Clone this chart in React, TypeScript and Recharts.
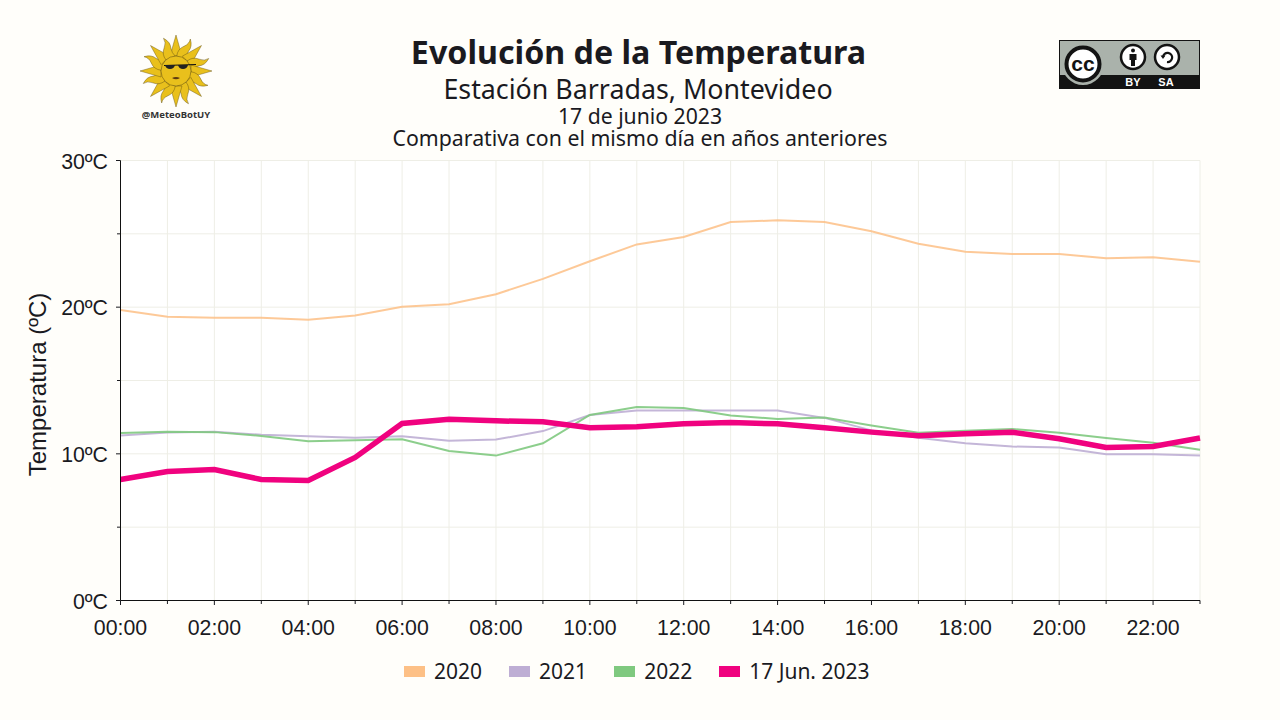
import React from "react";
import { LineChart, Line, XAxis, YAxis, CartesianGrid, Legend, Label } from "recharts";

const hours = ["00:00","01:00","02:00","03:00","04:00","05:00","06:00","07:00","08:00","09:00","10:00","11:00","12:00","13:00","14:00","15:00","16:00","17:00","18:00","19:00","20:00","21:00","22:00","23:00"];
const t2020 = [19.8,19.35,19.28,19.28,19.15,19.43,20.03,20.2,20.88,21.93,23.13,24.28,24.78,25.8,25.92,25.8,25.18,24.33,23.78,23.63,23.63,23.33,23.4,23.1];
const t2021 = [11.25,11.45,11.5,11.3,11.2,11.1,11.2,10.9,10.97,11.55,12.65,12.95,12.95,12.95,12.95,12.45,11.6,11.1,10.72,10.5,10.43,9.97,9.97,9.88];
const t2022 = [11.42,11.5,11.48,11.22,10.85,10.93,11.0,10.2,9.88,10.72,12.65,13.2,13.12,12.62,12.37,12.47,11.93,11.43,11.57,11.7,11.43,11.08,10.75,10.28];
const t2023 = [8.25,8.8,8.93,8.25,8.18,9.75,12.07,12.35,12.25,12.18,11.78,11.85,12.05,12.13,12.05,11.78,11.48,11.23,11.37,11.47,11.03,10.43,10.5,11.08];
const yTicks = [0,5,10,15,20,25,30];
const legendNames = ["2020","2021","2022","17 Jun. 2023"];
const colors = ["#fdc086","#beaed4","#7fc97f","#f0027f"];

const data = hours.map((h, i) => ({ h, a: t2020[i], b: t2021[i], c: t2022[i], d: t2023[i] }));

const INK = "#1a1a1f";
const SANS = "'Noto Sans', sans-serif";
const ARIAL = "'Liberation Sans', Arial, sans-serif";

const XTick = (p: any) => {
  const i = p.index as number;
  const major = i % 2 === 0;
  return (
    <g>
      <line x1={p.x} x2={p.x} y1={600.5} y2={major ? 605 : 604} stroke={INK} strokeWidth={1} />
      {major && (
        <text x={p.x} y={635} textAnchor="middle" fontFamily={ARIAL} fontSize={21.3} fill={INK}>
          {p.payload.value}
        </text>
      )}
    </g>
  );
};

const YTick = (p: any) => {
  const v = p.payload.value as number;
  const major = v % 10 === 0;
  return (
    <g>
      <line x1={major ? 116 : 117} x2={120.5} y1={p.y} y2={p.y} stroke={INK} strokeWidth={1} />
      {major && (
        <text x={108} y={p.y + 8} textAnchor="end" fontFamily={ARIAL} fontSize={21.3} fill={INK}>
          {v}ºC
        </text>
      )}
    </g>
  );
};

const LegendBox = (p: any) => (
  <div style={{ display: "flex", fontFamily: SANS, fontSize: 21, color: INK, lineHeight: "28px", whiteSpace: "nowrap" }}>
    {p.payload.map((e: any, i: number) => (
      <div key={i} style={{ display: "flex", alignItems: "center", marginRight: 27 }}>
        <span style={{ display: "inline-block", width: 21, height: 11, background: e.color, marginRight: 9 }} />
        <span>{e.value}</span>
      </div>
    ))}
  </div>
);

const rayAngles = Array.from({ length: 16 }, (_, i) => i * 22.5);

const Sun = () => (
  <svg width={1280} height={160} style={{ position: "absolute", left: 0, top: 0 }}>
    <g transform="translate(176,71)">
      {rayAngles.map((a, i) =>
        i % 2 === 0 ? (
          <path key={i} transform={`rotate(${a})`} d="M-6,-15 L0,-36 L6,-15 Z" fill="#e9c01c" stroke="#5c4a10" strokeWidth={0.4} />
        ) : (
          <path key={i} transform={`rotate(${a})`} d="M-5,-14 Q-7,-21 -2,-26 Q2,-30 1,-35 Q6,-29 4,-23 Q3,-18 5,-14 Z" fill="#e9c01c" stroke="#5c4a10" strokeWidth={0.4} />
        )
      )}
      <circle r={15} fill="#e9c01c" stroke="#5c4a10" strokeWidth={0.5} />
      <path d="M-12,-5.5 L20,-6.5" stroke="#111" strokeWidth={1.1} fill="none" />
      <path d="M-11,-6 Q-10,-2 -6,-2 Q-2,-2 -1,-6 Z M2,-6 Q3,-2 7,-2 Q11,-2 12,-6 Z" fill="#222" />
      <path d="M-4,7 Q0,5 4,7 Q0,9.5 -4,7 Z" fill="#5c3a10" />
    </g>
    <text x={176} y={118} textAnchor="middle" fontFamily={SANS} fontWeight={700} fontSize={9.5} fill="#333">@MeteoBotUY</text>

    <rect x={1059.5} y={40.5} width={140} height={48} fill="#aab2ab" stroke="#131313" />
    <rect x={1059} y={75} width={141} height={14} fill="#131313" />
    <circle cx={1083} cy={64} r={21} fill="#aab2ab" />
    <circle cx={1083} cy={64} r={16.5} fill="#fff" stroke="#131313" strokeWidth={4} />
    <text x={1083} y={71} textAnchor="middle" fontFamily={ARIAL} fontWeight={700} fontSize={21} fill="#131313">cc</text>
    <circle cx={1133} cy={57} r={12} fill="#fff" stroke="#131313" strokeWidth={2.5} />
    <circle cx={1133} cy={50.5} r={2} fill="#131313" />
    <path d="M1129.5,54 H1136.5 V60 H1135 V66 H1131 V60 H1129.5 Z" fill="#131313" />
    <circle cx={1167} cy={57} r={12} fill="#fff" stroke="#131313" strokeWidth={2.5} />
    <path d="M1163,57 A4.6,4.6 0 1 1 1167,62" fill="none" stroke="#131313" strokeWidth={2.2} />
    <path d="M1160.5,55.5 L1165.5,55.5 L1163,59 Z" fill="#131313" />
    <text x={1133} y={86} textAnchor="middle" fontFamily={ARIAL} fontWeight={700} fontSize={11} fill="#fff">BY</text>
    <text x={1166} y={86} textAnchor="middle" fontFamily={ARIAL} fontWeight={700} fontSize={11} fill="#fff">SA</text>

    <text x={638.5} y={64} textAnchor="middle" fontFamily={SANS} fontWeight={700} fontSize={32.2} fill={INK}>Evolución de la Temperatura</text>
    <text x={638} y={98.5} textAnchor="middle" fontFamily={SANS} fontSize={26.8} fill={INK}>Estación Barradas, Montevideo</text>
    <text x={640} y={124} textAnchor="middle" fontFamily={SANS} fontSize={21.2} fill={INK}>17 de junio 2023</text>
    <text x={640} y={146} textAnchor="middle" fontFamily={SANS} fontSize={21.3} fill={INK}>Comparativa con el mismo día en años anteriores</text>
  </svg>
);

export default function App() {
  return (
    <div style={{ position: "fixed", left: 0, top: 0, width: 1280, height: 720, background: "#fffefa", overflow: "hidden" }}>
      <LineChart
        width={1280}
        height={720}
        data={data}
        margin={{ top: 160.5, right: 80, bottom: 31.5, left: 40.5 }}
      >
        <CartesianGrid stroke="#eeeee6" strokeWidth={1} fill="#ffffff" fillOpacity={1} />
        <XAxis
          dataKey="h"
          interval={0}
          height={60}
          tick={<XTick />}
          tickLine={false}
          axisLine={{ stroke: "#111", strokeWidth: 1 }}
        />
        <YAxis
          domain={[0, 30]}
          ticks={yTicks}
          width={80}
          tick={<YTick />}
          tickLine={false}
          axisLine={{ stroke: "#111", strokeWidth: 1 }}
        >
          <Label
            value="Temperatura (ºC)"
            position="insideLeft"
            angle={-90}
            content={() => (
              <text x={37} y={384.5} transform="rotate(-90 37 384.5)" textAnchor="middle" dominantBaseline="central" fontFamily={ARIAL} fontSize={24} fill={INK}>
                Temperatura (ºC)
              </text>
            )}
          />
        </YAxis>
        <Legend
          content={<LegendBox />}
          itemSorter={null}
          wrapperStyle={{ position: "absolute", left: 404, top: 657, width: 520, height: 28 }}
        />
        <Line name={legendNames[0]} dataKey="a" stroke={colors[0]} strokeOpacity={0.85} strokeWidth={2} dot={false} isAnimationActive={false} strokeLinejoin="miter" />
        <Line name={legendNames[1]} dataKey="b" stroke={colors[1]} strokeOpacity={0.9} strokeWidth={2} dot={false} isAnimationActive={false} strokeLinejoin="miter" />
        <Line name={legendNames[2]} dataKey="c" stroke={colors[2]} strokeOpacity={0.9} strokeWidth={2} dot={false} isAnimationActive={false} strokeLinejoin="miter" />
        <Line name={legendNames[3]} dataKey="d" stroke={colors[3]} strokeWidth={5.5} dot={false} isAnimationActive={false} strokeLinejoin="miter" />
      </LineChart>
      <Sun />
    </div>
  );
}
